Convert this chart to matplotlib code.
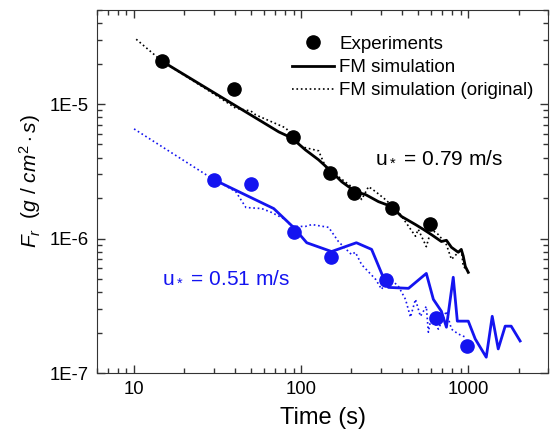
import matplotlib.pyplot as plt
import matplotlib.ticker as ticker
import numpy as np

plt.rcParams['font.family'] = ['Liberation Sans', 'DejaVu Sans']
plt.rcParams['mathtext.fontset'] = 'custom'
plt.rcParams['mathtext.rm'] = 'Liberation Sans'
plt.rcParams['mathtext.it'] = 'Liberation Sans:italic'

# experiments
exp_t_079 = [14.7, 39.5, 89, 148, 208, 352, 593]
exp_f_079 = [2.09e-5, 1.29e-5, 5.65e-6, 3.08e-6, 2.19e-6, 1.70e-6, 1.29e-6]
exp_t_051 = [30, 50, 90, 150, 324, 644, 986]
exp_f_051 = [2.74e-6, 2.55e-6, 1.11e-6, 7.3e-7, 4.89e-7, 2.55e-7, 1.58e-7]

# FM simulation, u* = 0.79
sim_t_079 = [14.7, 73.5, 87.7, 106, 127, 148, 175, 211, 243, 290, 347, 398, 483, 538,
             601, 690, 740, 793, 871, 908, 933, 960, 1000]
sim_f_079 = [2.08e-5, 6.2e-6, 5.6e-6, 4.56e-6, 3.85e-6, 3.24e-6, 2.64e-6, 2.23e-6, 2.12e-6,
             1.88e-6, 1.73e-6, 1.46e-6, 1.27e-6, 1.17e-6, 1.07e-6, 9.5e-7, 9.7e-7, 8.6e-7,
             7.9e-7, 8.3e-7, 7.4e-7, 6.2e-7, 5.6e-7]

# FM simulation (original), u* = 0.79
org_t_079 = [10.3, 14.7, 32, 40.6, 50, 53.5, 80.8, 101, 127, 140, 200, 230, 253, 279, 319,
             382, 483, 502, 561, 601, 662, 740, 793, 908, 933, 960]
org_f_079 = [3.03e-5, 2.08e-5, 1.13e-5, 9.3e-6, 8.87e-6, 8.3e-6, 6.64e-6, 4.8e-6, 4.49e-6,
             3.41e-6, 2.43e-6, 1.95e-6, 2.43e-6, 2.23e-6, 1.95e-6, 1.58e-6, 1.04e-6, 1.17e-6,
             8.7e-7, 1.17e-6, 1.07e-6, 9.0e-7, 7.0e-7, 8.3e-7, 6.2e-7, 6.0e-7]

# FM simulation, u* = 0.51
sim_t_051 = [30, 68.5, 90, 108, 152, 214, 264, 319, 333, 439, 561, 618, 690, 740, 813, 860,
             1000, 1101, 1281, 1391, 1511, 1663, 1806, 2043]
sim_f_051 = [2.74e-6, 1.67e-6, 1.21e-6, 9.3e-7, 8.0e-7, 9.3e-7, 8.3e-7, 4.72e-7, 4.33e-7,
             4.26e-7, 5.5e-7, 3.53e-7, 2.88e-7, 2.19e-7, 5.15e-7, 2.43e-7, 2.43e-7, 1.79e-7,
             1.31e-7, 2.64e-7, 1.51e-7, 2.23e-7, 2.23e-7, 1.73e-7]

# FM simulation (original), u* = 0.51
org_t_051 = [10, 30, 32, 40.6, 46.7, 58, 66.7, 80.8, 87.7, 106, 116, 146, 167, 200, 211, 230,
             279, 303, 333, 382, 421, 451, 483, 517, 561, 577, 601, 662, 740, 793, 871, 960]
org_f_051 = [6.53e-6, 2.74e-6, 2.64e-6, 2.23e-6, 1.70e-6, 1.67e-6, 1.56e-6, 1.38e-6, 1.23e-6,
             1.23e-6, 1.27e-6, 1.21e-6, 9.5e-7, 7.6e-7, 7.9e-7, 6.4e-7, 4.97e-7, 4.19e-7,
             5.15e-7, 4.41e-7, 3.53e-7, 2.60e-7, 3.53e-7, 2.64e-7, 3.13e-7, 2.01e-7, 2.64e-7,
             2.12e-7, 2.88e-7, 2.12e-7, 1.95e-7, 1.85e-7]

blue = '#1414f0'

fig = plt.figure(figsize=(5.5, 4.41), dpi=100)
ax = fig.add_axes([97/550, 1-373/441, 451/550, 363/441])

ax.plot(org_t_051, org_f_051, ':', color=blue, lw=1.2)
ax.plot(sim_t_051, sim_f_051, '-', color=blue, lw=2.0)
ax.plot(exp_t_051, exp_f_051, 'o', color=blue, ms=9.5)

ax.plot(org_t_079, org_f_079, ':', color='black', lw=1.2, label='FM simulation (original)')
ax.plot(sim_t_079, sim_f_079, '-', color='black', lw=2.0, label='FM simulation')
ax.plot(exp_t_079, exp_f_079, 'o', color='black', ms=9.5, label='Experiments')

ax.set_xscale('log')
ax.set_yscale('log')
ax.set_xlim(6, 3000)
ax.set_ylim(1e-7, 5e-5)

ax.xaxis.set_major_formatter(ticker.FuncFormatter(lambda v, p: f'{v:g}'))
ax.yaxis.set_major_formatter(ticker.FuncFormatter(lambda v, p: f'1E{int(round(np.log10(v)))}'))
ax.xaxis.set_minor_formatter(ticker.NullFormatter())
ax.yaxis.set_minor_formatter(ticker.NullFormatter())
ax.tick_params(which='both', direction='in', top=True, right=True, labelsize=13.3, color='#333333')
ax.tick_params(which='major', length=6, width=1)
ax.tick_params(which='minor', length=3.5, width=1)
ax.tick_params(axis='y', pad=6)
ax.tick_params(axis='x', pad=6)
for s in ax.spines.values():
	s.set_color('#333333')

h, l = ax.get_legend_handles_labels()
ax.legend(h[::-1], l[::-1], loc='upper right', frameon=False, fontsize=13.5,
	handlelength=2.2, handletextpad=0.3, labelspacing=0.33,
	bbox_to_anchor=(0.985, 0.95), borderaxespad=0)

ax.text(275, 4.05e-6, r'u$_*$ = 0.79 m/s', fontsize=15, color='black', va='center')
ax.text(14.7, 5.23e-7, r'u$_*$ = 0.51 m/s', fontsize=15, color=blue, va='center')

ax.set_xlabel('Time (s)', fontsize=17)
ax.set_ylabel(r'$F_r\ \ (g\ /\ cm^2 \cdot s)$', fontsize=15)
ax.xaxis.set_label_coords(0.5, -0.095)
ax.yaxis.set_label_coords(-0.12, 0.53)

plt.savefig('out.png', dpi=100)
